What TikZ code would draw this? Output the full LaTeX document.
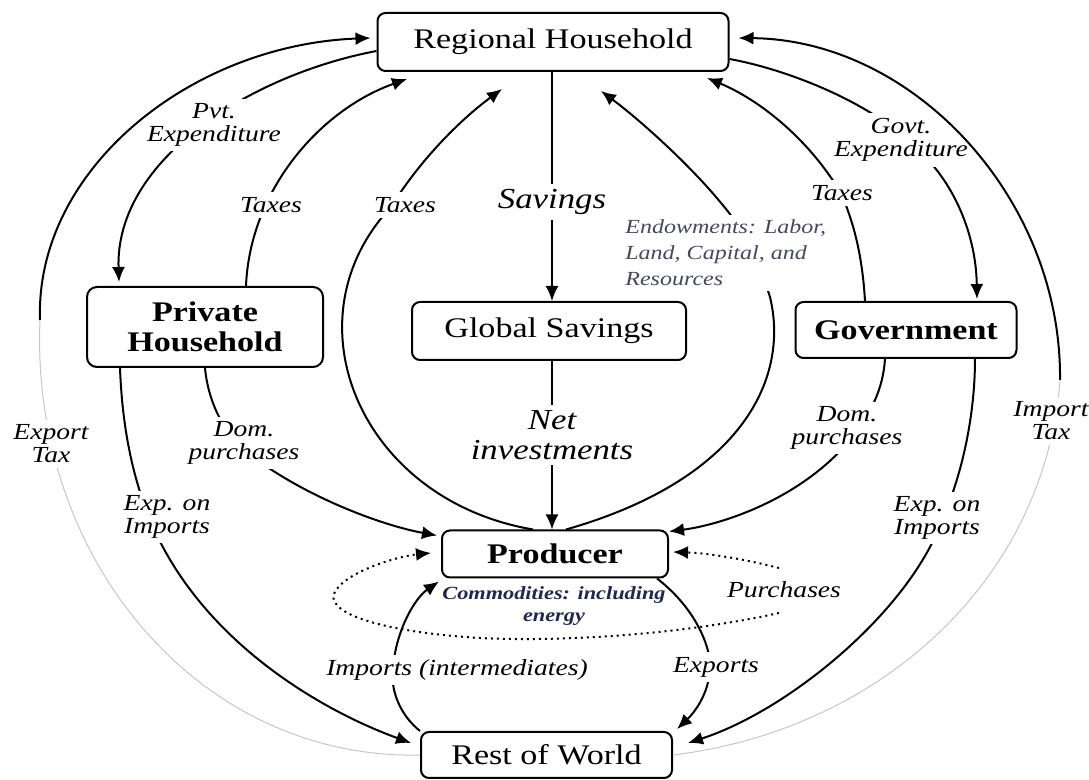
\documentclass[tikz,border=0pt]{standalone}
\usepackage{fontspec}
\setmainfont{Liberation Serif}[FakeStretch=1.2]
\usetikzlibrary{arrows.meta}
\definecolor{endowtext}{RGB}{70,72,96}
\definecolor{commtext}{RGB}{32,40,82}

\begin{document}
\begin{tikzpicture}[x=0.5pt, y=-0.5pt,
		box/.style={draw, line width=1pt, rounded corners=4pt, inner sep=0pt, align=center, font=\fontsize{14.2}{15}\selectfont},
		boldbox/.style={box, font=\fontsize{14.2}{15}\selectfont\bfseries},
		flow/.style={line width=1pt, -{Latex[length=7.5pt, width=6.5pt]}},
		loopflow/.style={flow, dotted},
		faint/.style={gray!45, line width=0.5pt},
		lbl/.style={fill=white, inner sep=2.5pt, align=center, font=\fontsize{11.5}{11.5}\selectfont\itshape},
		biglbl/.style={lbl, font=\fontsize{14.5}{15}\selectfont\itshape}]
		
		\useasboundingbox (0,0) rectangle (1089,780);
		
		% accounts
		\node[box, minimum width=175.5pt, minimum height=29pt] (rh) at (553,42) {Regional Household};
		\node[boldbox, rounded corners=5pt, minimum width=118pt, minimum height=40pt] (ph) at (205,327) {Private\\Household};
		\node[box, minimum width=137pt, minimum height=29pt] (gs) at (549,331) {Global Savings};
		\node[boldbox, minimum width=110.5pt, minimum height=28pt] (gov) at (906,330) {Government};
		\node[boldbox, minimum width=113pt, minimum height=23.5pt] (prod) at (555,554) {Producer};
		\node[box, minimum width=125.5pt, minimum height=23pt] (rw) at (546.5,755) {Rest of World};
		
		\coordinate (etx) at (40,320);
		\coordinate (itx) at (1060,380);
		\coordinate (pu1) at (779,568);
		\coordinate (pu2) at (779,613);
		
		% flows between the accounts
		\draw[flow] ([yshift=-4.5pt]rh.west) .. controls (250,75) and (115,160) .. ([xshift=-43pt, yshift=2pt]ph.north);
		\draw[flow] ([xshift=20.5pt]ph.north) .. controls (250,190) and (320,110) .. ([xshift=-73pt, yshift=-3.5pt]rh.south);
		\draw[flow] ([xshift=-11pt]prod.north) .. controls (360,500) and (285,320) .. (391,207) .. controls (420,160) and (460,120) .. ([xshift=-25.5pt, yshift=-8.5pt]rh.south);
		\draw[flow] ([xshift=-0.5pt]rh.south) -- ([xshift=1.5pt]gs.north);
		\draw[flow] ([xshift=1.5pt]gs.south) -- ([xshift=-1.5pt]prod.north);
		\draw[flow] ([xshift=5.5pt]prod.north) .. controls (740,480) and (790,380) .. (770,297) .. controls (755,250) and (740,225) .. (721,203) .. controls (690,165) and (640,120) .. ([xshift=24pt, yshift=-9.5pt]rh.south);
		\draw[flow] ([xshift=-20.5pt]gov.north) .. controls (862,250) and (852,220) .. (842,195) .. controls (810,140) and (760,100) .. ([xshift=77pt, yshift=-3pt]rh.south);
		\draw[flow] ([yshift=-8.5pt]rh.east) .. controls (800,72) and (880,110) .. (912,145) .. controls (950,175) and (976,230) .. ([xshift=35.5pt, yshift=1pt]gov.north);
		
		\draw[flow] (ph.south) .. controls (208,400) and (222,430) .. (244,450) .. controls (300,495) and (380,525) .. ([xshift=-2pt, yshift=-3pt]prod.north west);
		\draw[flow] ([xshift=-42.5pt]ph.south) .. controls (122,420) and (130,470) .. (150,520) .. controls (200,640) and (320,710) .. ([xshift=-4.5pt, yshift=6pt]rw.west);
		\draw[flow] ([xshift=-10.5pt]gov.south) .. controls (883,390) and (870,415) .. (850,440) .. controls (800,500) and (720,525) .. ([yshift=-1pt]prod.north east);
		\draw[flow] ([xshift=34.5pt]gov.south) .. controls (975,420) and (960,480) .. (942,520) .. controls (910,610) and (790,710) .. ([xshift=7.5pt, yshift=6pt]rw.east);
		
		\draw[flow] ([xshift=-6pt]prod.south east) .. controls (685,600) and (705,630) .. (710,660) .. controls (712,690) and (695,712) .. ([xshift=2pt, yshift=1pt]rw.north east);
		\draw[flow] (rw.north west) .. controls (400,715) and (390,690) .. (393,668) .. controls (396,630) and (415,598) .. ([xshift=-1pt, yshift=-1.5pt]prod.south west);
		
		\draw[loopflow] (pu1) .. controls (740,558) and (705,553) .. ([xshift=2pt, yshift=1pt]prod.east);
		\draw[loopflow] (pu2) .. controls (680,635) and (560,642) .. (480,638) .. controls (380,632) and (320,612) .. (336,590) .. controls (350,570) and (400,556) .. ([xshift=-5pt, yshift=0.5pt]prod.west);
		
		% labels
		\node[lbl] (lpvt) at (214,125) {Pvt.\\Expenditure};
		\node[lbl] (ltaxl) at (271,205) {Taxes};
		\node[lbl] (ltaxm) at (405,205) {Taxes};
		\node[biglbl] (lsav) at (552,202) {Savings};
		\node[lbl, anchor=west, align=left, text=endowtext, font=\fontsize{10}{13}\selectfont\itshape] (lend) at (620,253) {Endowments: Labor,\\Land, Capital, and\\Resources};
		\node[lbl] (ltaxr) at (842,193) {Taxes};
		\node[lbl] (lgov) at (901,140) {Govt.\\Expenditure};
		\node[lbl] (ldoml) at (244,443) {Dom.\\purchases};
		\node[lbl] (limpl) at (167,517) {Exp. on\\Imports};
		\node[biglbl] (lnet) at (552,435) {Net\\investments};
		\node[lbl] (ldomr) at (847,428) {Dom.\\purchases};
		\node[lbl] (limpr) at (937,518) {Exp. on\\Imports};
		\node[lbl] (lpur) at (784,590) {Purchases};
		\node[lbl] (lint) at (457,670) {Imports (intermediates)};
		\node[lbl] (lexp) at (716,667) {Exports};
		\node[align=center, inner sep=0pt, text=commtext, font=\fontsize{9.3}{11}\selectfont\bfseries\itshape] (lcom) at (554,606) {Commodities: including\\energy};
		
		% outer tax arcs
		\draw[faint] (rw.west) .. controls (200,760) and (30,560) .. (etx);
		\draw[flow] (etx) .. controls (35,170) and (190,45) .. ([xshift=-3pt, yshift=2pt]rh.west);
		\draw[faint] (rw.east) .. controls (880,730) and (1045,580) .. (itx);
		\draw[flow] (itx) .. controls (1062,200) and (915,40) .. ([xshift=4.5pt, yshift=2pt]rh.east);
		\node[lbl] (lext) at (51,444) {Export\\Tax};
		\node[lbl] (limt) at (1051,421) {Import\\Tax};
		
\end{tikzpicture}
\end{document}
